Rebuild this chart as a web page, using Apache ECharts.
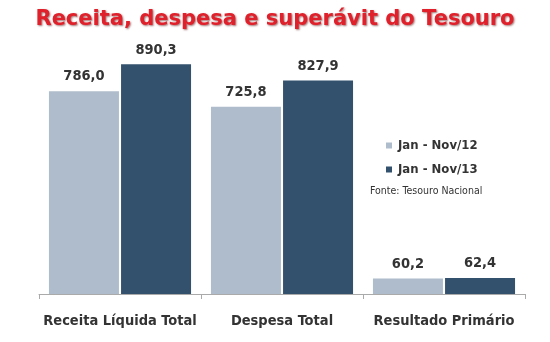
<!DOCTYPE html>
<html><head><meta charset="utf-8">
<script src="https://cdn.jsdelivr.net/npm/echarts@6/dist/echarts.min.js"></script>
<style>html,body{margin:0;padding:0;background:#fff}#c{width:550px;height:342px}</style>
</head><body><div id="c"></div>
<script>
const categories = ['Receita Líquida Total', 'Despesa Total', 'Resultado Primário'];
const seriesNames = ['Jan - Nov/12', 'Jan - Nov/13'];
const values2012 = [786.0, 725.8, 60.2];
const values2013 = [890.3, 827.9, 62.4];
const titleText = 'Receita, despesa e superávit do Tesouro';
const sourceText = 'Fonte: Tesouro Nacional';

const NARROW = "'DejaVu Sans Condensed', 'Liberation Sans Narrow', sans-serif";
const fmt = v => v.toFixed(1).replace('.', ',');
const chart = echarts.init(document.getElementById('c'));
const label = {show: true, position: 'top', distance: 7, formatter: p => fmt(p.value),
  fontFamily: NARROW, fontWeight: 'bold', fontSize: 14.5, color: '#333'};
chart.setOption({
  animation: false,
  title: {text: titleText, left: 'center', top: 4,
    textStyle: {fontFamily: "'DejaVu Sans', sans-serif", fontWeight: 'bold', fontSize: 21,
      color: '#e0202a', textShadowColor: 'rgba(90,0,0,0.55)', textShadowBlur: 2, textShadowOffsetX: 1, textShadowOffsetY: 1.5}},
  legend: {orient: 'vertical', left: 386, top: 138.5, itemWidth: 6, itemHeight: 6, itemGap: 10,
    icon: 'rect', data: seriesNames, padding: 0,
    textStyle: {fontFamily: NARROW, fontWeight: 'bold', fontSize: 13, lineHeight: 14, color: '#333', padding: [0,0,0,1]}},
  graphic: [{type: 'text', left: 370, top: 186, style: {text: sourceText, fontFamily: NARROW, fontSize: 10.5, fill: '#333'}}],
  grid: {left: 39, right: 25, top: 36, bottom: 48},
  xAxis: {type: 'category', data: categories,
    axisLine: {lineStyle: {color: '#aaa'}},
    axisTick: {show: true, length: 5, lineStyle: {color: '#aaa'}},
    axisLabel: {interval: 0, fontFamily: NARROW, fontWeight: 'bold', fontSize: 14.5, color: '#333', margin: 20}},
  yAxis: {type: 'value', min: 0, max: 1000, show: false, splitLine: {show: false}},
  series: [
    {name: seriesNames[0], type: 'bar', data: values2012, barWidth: 70, barGap: '3%', itemStyle: {color: '#aebccb'}, label},
    {name: seriesNames[1], type: 'bar', data: values2013, barWidth: 70, itemStyle: {color: '#33506c'}, label}
  ]
});
</script></body></html>
